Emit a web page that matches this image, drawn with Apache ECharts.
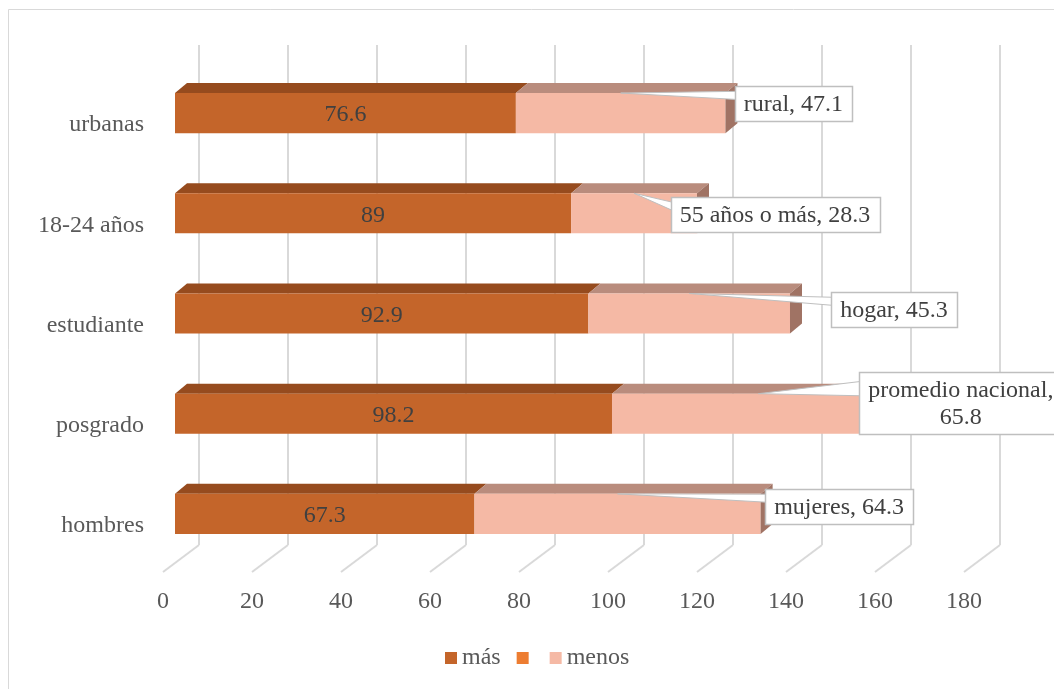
<!DOCTYPE html>
<html>
<head>
<meta charset="utf-8">
<title>más / menos</title>
<script src="https://cdn.jsdelivr.net/npm/echarts@6/dist/echarts.min.js"></script>
<style>
  html, body { margin: 0; padding: 0; background: #fff; }
  #chart { width: 1054px; height: 689px; }
</style>
</head>
<body>
<div id="chart"></div>
<script>
// Categories (bottom to top) and the two stacked series
const categories = ['hombres', 'posgrado', 'estudiante', '18-24 años', 'urbanas'];
const masValues = [67.3, 98.2, 92.9, 89, 76.6];
const menosValues = [64.3, 65.8, 45.3, 28.3, 47.1];
const menosNames = ['mujeres', 'promedio nacional', 'hogar', '55 años o más', 'rural'];

// Value axis ticks
const axisMin = 0;
const axisMax = 180;
const axisStep = 20;
const xTickValues = [0, 20, 40, 60, 80, 100, 120, 140, 160, 180];

// Callout placement: box centre offset from the bar end / bar centre, and line wrapping
const calloutLayout = [
  { dx: 78.5, dy: -7.5, wrap: false },
  { dx: 56, dy: -10.5, wrap: true },
  { dx: 104, dy: -4, wrap: false },
  { dx: 78, dy: 1, wrap: false },
  { dx: 68, dy: -9.5, wrap: false }
];

const FONT_FAMILY = '"Liberation Serif", "Times New Roman", serif';
const FONT = '24px ' + FONT_FAMILY;
const DX = 12, DY = 10;          // bar depth (top / side faces)
const PLOT_W = 801;

const colors = {
  mas: { front: '#C4652A', top: '#964B1E', side: '#7E3F19' },
  menos: { front: '#F5B9A5', top: '#B98C7D', side: '#A07364' },
  orange: '#ED7D31',
  grid: '#D9D9D9',
  label: '#595959',
  value: '#404040'
};

const measure = (function () {
  const ctx = document.createElement('canvas').getContext('2d');
  ctx.font = FONT;
  return function (t) { return ctx.measureText(t).width; };
})();

function barRenderer(kind) {
  const st = colors[kind];
  return function (params, api) {
    const i = api.value(0), s = api.value(1), e = api.value(2);
    const a = api.coord([s, i]);
    const b = api.coord([e, i]);
    const h = api.size([0, 1])[1] * 0.4;
    const x0 = a[0], x1 = b[0], yc = a[1];
    const yt = yc - h / 2, yb = yc + h / 2;
    const children = [
      { type: 'polygon', shape: { points: [[x0, yt], [x0 + DX, yt - DY], [x1 + DX, yt - DY], [x1, yt]] },
        style: { fill: st.top } },
      { type: 'rect', shape: { x: x0, y: yt, width: x1 - x0, height: h }, style: { fill: st.front } }
    ];
    if (kind === 'mas') {
      children.push({ type: 'text', z2: 5,
        style: { text: String(masValues[i]), x: (x0 + x1) / 2, y: yc + 2, font: FONT, fill: colors.value,
          align: 'center', verticalAlign: 'middle' } });
    } else {
      children.push({ type: 'polygon', shape: { points: [[x1, yt], [x1 + DX, yt - DY], [x1 + DX, yb - DY], [x1, yb]] },
        style: { fill: st.side } });
      // data callout
      const lay = calloutLayout[i];
      const valTxt = String(menosValues[i]);
      const lines = lay.wrap ? [menosNames[i] + ',', valTxt] : [menosNames[i] + ', ' + valTxt];
      const lh = 27, padX = 9, padY = 4;
      const w = Math.max.apply(null, lines.map(measure)) + 2 * padX;
      const bh = lines.length * lh + 2 * padY;
      const cx = x1 + lay.dx, cy = yc + lay.dy;
      const bx = cx - w / 2, by = cy - bh / 2;
      const ax = (x0 + x1) / 2, ay = yt;
      children.push({ type: 'polygon', z2: 10,
        shape: { points: [[ax, ay], [bx + 1, by + bh * 0.15], [bx + 1, by + bh * 0.38]] },
        style: { fill: '#fff', stroke: '#BFBFBF', lineWidth: 1 } });
      children.push({ type: 'rect', z2: 11,
        shape: { x: Math.round(bx) + 0.5, y: Math.round(by) + 0.5, width: Math.round(w), height: Math.round(bh) },
        style: { fill: '#fff', stroke: '#BFBFBF', lineWidth: 1.5 } });
      children.push({ type: 'text', z2: 12,
        style: { text: lines.join('\n'), x: cx, y: cy + 1, font: FONT, lineHeight: lh, fill: colors.value,
          align: 'center', verticalAlign: 'middle' } });
    }
    return { type: 'group', children: children };
  };
}

const chart = echarts.init(document.getElementById('chart'), null, { renderer: 'canvas' });

const valueAxisBase = { type: 'value', min: axisMin, max: axisMax, interval: axisStep };

chart.setOption({
  animation: false,
  backgroundColor: '#fff',
  textStyle: { fontFamily: FONT_FAMILY },
  graphic: [{
    type: 'rect', silent: true, z: -10,
    shape: { x: 8.5, y: 9.5, width: 1200, height: 800 },
    style: { fill: 'none', stroke: '#D9D9D9', lineWidth: 1 }
  }],
  grid: [
    { left: 175, top: 63, width: PLOT_W, height: 501 },   // bars
    { left: 163, top: 75, width: PLOT_W, height: 501 },   // front plane (labels)
    { left: 199, top: 45, width: PLOT_W, height: 500 }    // back wall (gridlines)
  ],
  xAxis: [
    Object.assign({ gridIndex: 0, show: false }, valueAxisBase),
    Object.assign({ gridIndex: 1, axisLine: { show: false }, axisTick: { show: false }, splitLine: { show: false },
      axisLabel: { color: colors.label, fontSize: 24, fontFamily: FONT_FAMILY, margin: 14 } }, valueAxisBase),
    Object.assign({ gridIndex: 2, axisLine: { show: false }, axisTick: { show: false }, axisLabel: { show: false },
      splitLine: { show: true, lineStyle: { color: colors.grid, width: 2 } } }, valueAxisBase)
  ],
  yAxis: [
    { gridIndex: 0, type: 'category', data: categories, show: false },
    { gridIndex: 1, type: 'category', data: categories, axisLine: { show: false }, axisTick: { show: false },
      axisLabel: { color: colors.label, fontSize: 24, fontFamily: FONT_FAMILY, margin: 19 } },
    { gridIndex: 2, type: 'value', min: 0, max: 1, show: false }
  ],
  legend: {
    data: ['más', '\u200b', 'menos'],
    left: 440, top: 641,
    icon: 'rect', itemWidth: 12, itemHeight: 12, itemGap: 16,
    selectedMode: false,
    textStyle: { color: colors.label, fontSize: 24, fontFamily: FONT_FAMILY }
  },
  series: [
    {
      // floor lines running from the back wall to the front plane
      type: 'custom', name: 'floor', xAxisIndex: 2, yAxisIndex: 2, silent: true, z: 1, clip: false,
      data: xTickValues.map(v => [v, 0]),
      renderItem: function (params, api) {
        const p = api.coord([api.value(0), 0]);
        return { type: 'line', shape: { x1: p[0], y1: p[1], x2: p[0] - 36, y2: p[1] + 27 },
          style: { stroke: colors.grid, lineWidth: 2 } };
      }
    },
    {
      type: 'custom', name: 'más', xAxisIndex: 0, yAxisIndex: 0, z: 2, clip: false,
      itemStyle: { color: colors.mas.front },
      encode: { x: [1, 2], y: 0 },
      data: categories.map((c, i) => [i, 0, masValues[i]]),
      renderItem: barRenderer('mas')
    },
    {
      type: 'custom', name: '\u200b', xAxisIndex: 0, yAxisIndex: 0, z: 2,
      itemStyle: { color: colors.orange },
      data: [],
      renderItem: function () { return null; }
    },
    {
      type: 'custom', name: 'menos', xAxisIndex: 0, yAxisIndex: 0, z: 3, clip: false,
      itemStyle: { color: colors.menos.front },
      encode: { x: [1, 2], y: 0 },
      data: categories.map((c, i) => [i, masValues[i], masValues[i] + menosValues[i]]),
      renderItem: barRenderer('menos')
    }
  ]
});
</script>
</body>
</html>
